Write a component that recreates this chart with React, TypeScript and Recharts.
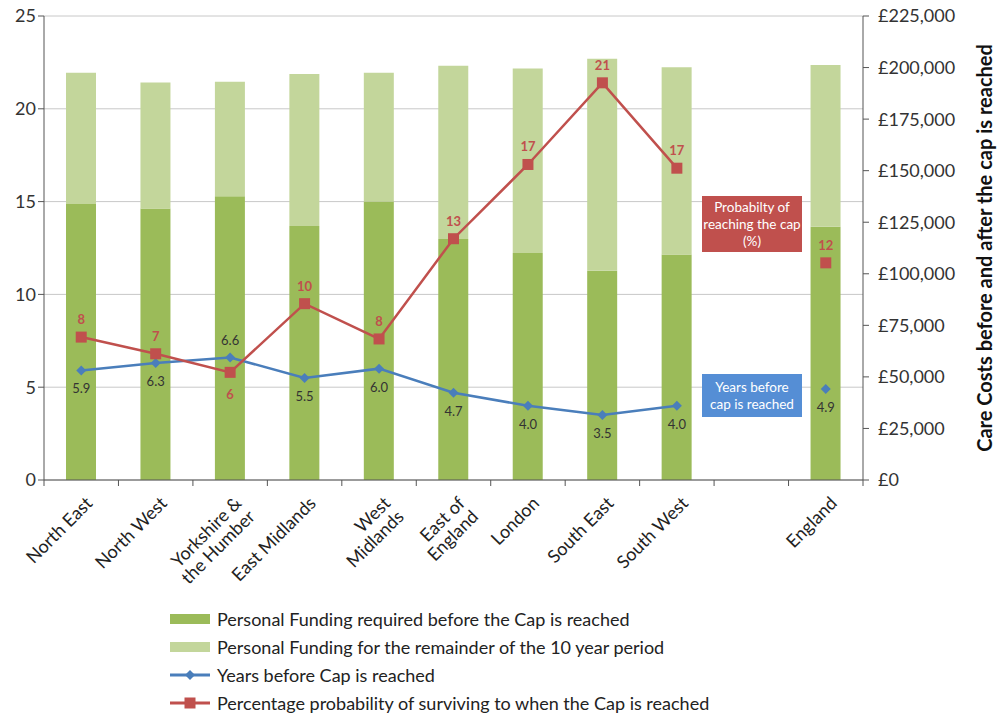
import {
  Bar,
  CartesianGrid,
  ComposedChart,
  LabelList,
  Line,
  XAxis,
  YAxis,
} from "recharts";

const regions = [
  "North East",
  "North West",
  "Yorkshire &\nthe Humber",
  "East Midlands",
  "West\nMidlands",
  "East of\nEngland",
  "London",
  "South East",
  "South West",
  "",
  "England",
];

// £ per person, stacked on the right axis
const fundingBeforeCap = [133800, 131700, 137600, 123200, 135000, 116900, 110100, 101500, 109400, null, 122800];
const fundingRemainder = [63700, 61000, 55500, 73700, 62500, 84000, 89500, 102800, 90700, null, 78400];

// left axis series
const yearsBeforeCap = [5.9, 6.3, 6.6, 5.5, 6.0, 4.7, 4.0, 3.5, 4.0, null, 4.9];
const survivalPct = [7.7, 6.8, 5.8, 9.5, 7.6, 13.0, 17.0, 21.4, 16.8, null, 11.7];

const leftTicks = [0, 5, 10, 15, 20, 25];
const rightTicks = [0, 25000, 50000, 75000, 100000, 125000, 150000, 175000, 200000, 225000];

const data = regions.map((region, i) => ({
  region,
  before: fundingBeforeCap[i],
  remainder: fundingRemainder[i],
  years: yearsBeforeCap[i],
  survival: survivalPct[i],
}));

const W = 999;
const H = 717;
const LEFT_W = 44;
const RIGHT_W = 136;
const BAND = (W - LEFT_W - RIGHT_W) / regions.length;

const FONT = "Lato, 'Open Sans', sans-serif";
const DARK_GREEN = "#9BBB59";
const LIGHT_GREEN = "#C3D69B";
const BLUE = "#4A7EBB";
const RED = "#C0504D";

const RegionTick = (props: any) => {
  const { x, y, payload, index } = props;
  const lines = String(payload.value).split("\n");
  return (
    <g>
      <line x1={x - BAND / 2} x2={x - BAND / 2} y1={y} y2={y + 6} stroke="#555" />
      {index === regions.length - 1 && (
        <line x1={x + BAND / 2} x2={x + BAND / 2} y1={y} y2={y + 6} stroke="#555" />
      )}
      <text
        transform={`translate(${x + 8},${y + 20}) rotate(-45)`}
        textAnchor="end"
        fontSize={18}
        fontFamily={FONT}
        fill="#222"
      >
        {lines.map((l, i) => (
          <tspan key={i} x={0} y={i * 19} dy="0.35em">
            {l}
          </tspan>
        ))}
      </text>
    </g>
  );
};

const Diamond = (props: any) => {
  const { cx, cy, index } = props;
  if (cx == null || cy == null || props.value == null) return <g key={index} />;
  const r = 5;
  return (
    <polygon
      key={index}
      points={`${cx},${cy - r} ${cx + r},${cy} ${cx},${cy + r} ${cx - r},${cy}`}
      fill={BLUE}
    />
  );
};

const Square = (props: any) => {
  const { cx, cy, index } = props;
  if (cx == null || cy == null || props.value == null) return <g key={index} />;
  return <rect key={index} x={cx - 5.5} y={cy - 5.5} width={11} height={11} fill={RED} />;
};

const yearsLabel = (props: any) => {
  const { x, y, value, index } = props;
  if (value == null) return null;
  const dy = index === 2 ? -18 : 18;
  return (
    <text x={x} y={y + dy} textAnchor="middle" dominantBaseline="central" fontSize={13} fontFamily={FONT} fill="#333">
      {Number(value).toFixed(1)}
    </text>
  );
};

const survivalLabel = (props: any) => {
  const { x, y, value, index } = props;
  if (value == null) return null;
  const dy = index === 2 ? 22 : -18;
  return (
    <text
      x={x}
      y={y + dy}
      textAnchor="middle"
      dominantBaseline="central"
      fontSize={13}
      fontWeight="bold"
      fontFamily={FONT}
      fill={RED}
    >
      {Math.round(value)}
    </text>
  );
};

const legendItems = [
  { label: "Personal Funding required before the Cap is reached", kind: "box", color: DARK_GREEN },
  { label: "Personal Funding for the remainder of the 10 year period", kind: "box", color: LIGHT_GREEN },
  { label: "Years before Cap is reached", kind: "diamond", color: BLUE },
  { label: "Percentage probability of surviving to when the Cap is reached", kind: "square", color: RED },
];

const LegendIcon = ({ kind, color }: { kind: string; color: string }) => (
  <svg width={40} height={14} style={{ marginRight: 7 }}>
    {kind === "box" ? (
      <rect x={0} y={2} width={40} height={10} fill={color} />
    ) : (
      <>
        <line x1={0} x2={40} y1={7} y2={7} stroke={color} strokeWidth={3} />
        {kind === "diamond" ? (
          <polygon points="20,2 25,7 20,12 15,7" fill={color} />
        ) : (
          <rect x={14.5} y={1.5} width={11} height={11} fill={color} />
        )}
      </>
    )}
  </svg>
);

const noteBox = {
  position: "absolute" as const,
  left: 702,
  width: 100,
  color: "#fff",
  fontFamily: FONT,
  fontSize: 13.5,
  lineHeight: "17px",
  textAlign: "center" as const,
  display: "flex",
  alignItems: "center",
  justifyContent: "center",
};

export default function App() {
  return (
    <div style={{ position: "absolute", left: 0, top: 0, width: W, height: H, background: "#fff" }}>
      <ComposedChart width={W} height={H} data={data} margin={{ top: 16, right: 0, bottom: 0, left: 0 }}>
        <CartesianGrid yAxisId="left" vertical={false} stroke="#C8C8C8" />
        <XAxis
          dataKey="region"
          interval={0}
          height={237}
          tick={<RegionTick />}
          tickLine={false}
          tickSize={0}
          tickMargin={0}
          axisLine={{ stroke: "#555" }}
        />
        <YAxis
          yAxisId="left"
          width={LEFT_W}
          domain={[0, 25]}
          ticks={leftTicks}
          tickSize={6}
          tickLine={{ stroke: "#555" }}
          axisLine={{ stroke: "#555" }}
          tick={{ fontSize: 18, fill: "#333", fontFamily: FONT }}
        />
        <YAxis
          yAxisId="right"
          orientation="right"
          width={RIGHT_W}
          domain={[0, 225000]}
          ticks={rightTicks}
          tickSize={6}
          tickMargin={9}
          tickLine={{ stroke: "#555" }}
          axisLine={{ stroke: "#555" }}
          tick={{ fontSize: 18, fill: "#333", fontFamily: FONT, textAnchor: "start" }}
          tickFormatter={(v: number) => `£${v.toLocaleString("en-GB")}`}
          label={{
            value: "Care Costs before and after the cap is reached",
            angle: -90,
            position: "center",
            dx: 54,
            style: { fontSize: 20, fontWeight: "bold", fill: "#111", fontFamily: FONT },
          }}
        />
        <Bar yAxisId="right" dataKey="before" stackId="f" fill={DARK_GREEN} barSize={30} isAnimationActive={false} />
        <Bar yAxisId="right" dataKey="remainder" stackId="f" fill={LIGHT_GREEN} barSize={30} isAnimationActive={false} />
        <Line
          yAxisId="left"
          dataKey="years"
          stroke={BLUE}
          strokeWidth={2.5}
          dot={Diamond}
          activeDot={false}
          isAnimationActive={false}
        >
          <LabelList dataKey="years" content={yearsLabel} />
        </Line>
        <Line
          yAxisId="left"
          dataKey="survival"
          stroke={RED}
          strokeWidth={2.5}
          dot={Square}
          activeDot={false}
          isAnimationActive={false}
        >
          <LabelList dataKey="survival" content={survivalLabel} />
        </Line>
      </ComposedChart>

      <div style={{ ...noteBox, top: 196, height: 56, background: RED }}>
        Probabilty of
        <br />
        reaching the cap
        <br />
        (%)
      </div>
      <div style={{ ...noteBox, top: 374, height: 43, background: "#558ED5" }}>
        Years before
        <br />
        cap is reached
      </div>

      <div style={{ position: "absolute", left: 170, top: 605, fontFamily: FONT, fontSize: 18, color: "#222" }}>
        {legendItems.map((it) => (
          <div key={it.label} style={{ display: "flex", alignItems: "center", height: 28 }}>
            <LegendIcon kind={it.kind} color={it.color} />
            {it.label}
          </div>
        ))}
      </div>
    </div>
  );
}
